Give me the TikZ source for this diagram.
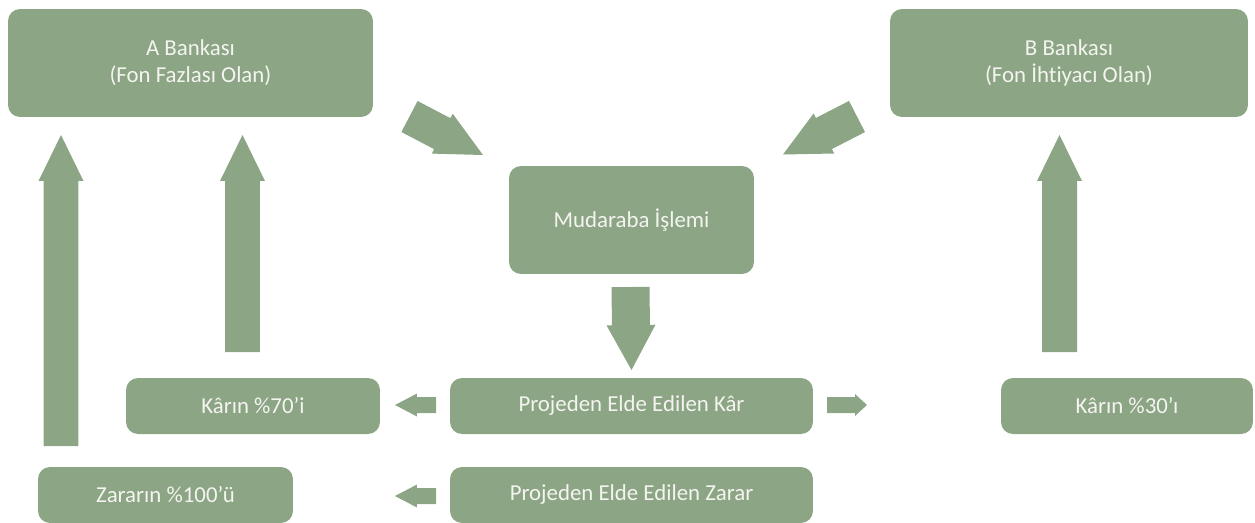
\documentclass[tikz,border=0pt]{standalone}
\usepackage{fontspec}
\setmainfont[Ligatures={NoCommon,NoRequired,NoContextual}]{Carlito}
\usetikzlibrary{calc}

% block arrow: start, tip, shaft half width, head half width, head length
\newcommand{\blockArrow}[5]{%
    \coordinate (baBase) at ($(#2)!#5!(#1)$);
    \fill[arrowFill] ($(#1)!#3!90:(#2)$) -- ($(baBase)!#3!90:(#2)$) -- ($(baBase)!#4!90:(#2)$)
        -- (#2) -- ($(baBase)!#4!-90:(#2)$) -- ($(baBase)!#3!-90:(#2)$) -- ($(#1)!#3!-90:(#2)$) -- cycle;
}

\begin{document}
\begin{tikzpicture}[x=0.02cm, y=-0.02cm]
    \definecolor{fillColour}{HTML}{8CA584}
    \definecolor{textColour}{HTML}{F4F4F0}

    \tikzset{
        box/.style={fill=fillColour, rounded corners=0.24cm, text=textColour, align=center,
            font=\fontsize{13}{15.5}\selectfont, inner sep=0pt},
        bigBox/.style={box, minimum height=2.16cm},
        smallBox/.style={box, minimum height=1.12cm},
        arrowFill/.style={fill=fillColour}
    }

    \useasboundingbox (0,0) rectangle (1255,522);

    % Banks and mudaraba
    \node[bigBox, minimum width=7.3cm] (aBank) at (190.5,63) {A Bankası\\(Fon Fazlası Olan)};
    \node[bigBox, minimum width=7.16cm] (bBank) at (1069,63) {B Bankası\\(Fon İhtiyacı Olan)};
    \node[bigBox, minimum width=4.9cm] (mudaraba) at (631.5,220) {Mudaraba İşlemi};

    % Profit and loss
    \node[smallBox, minimum width=7.26cm] (profit) at (631.5,406) {Projeden Elde Edilen Kâr};
    \node[smallBox, minimum width=5.08cm] (profitA) at (253,406) {Kârın \%70’i};
    \node[smallBox, minimum width=5.04cm] (profitB) at (1127,406) {Kârın \%30’ı};
    \node[smallBox, minimum width=7.26cm] (loss) at (631.5,495) {Projeden Elde Edilen Zarar};
    \node[smallBox, minimum width=5.1cm] (lossA) at (165.5,495) {Zararın \%100’ü};

    % Arrow ends
    \coordinate (aIn1) at (409.5,116.5);
    \coordinate (aIn2) at (483,155);
    \coordinate (bIn1) at (857,116.5);
    \coordinate (bIn2) at (783,154.5);
    \coordinate (mudOut1) at (630.5,287);
    \coordinate (mudOut2) at (631.5,370);
    \coordinate (lossUp1) at (61,446);
    \coordinate (lossUp2) at (61,135);
    \coordinate (profitAUp1) at (242.5,352);
    \coordinate (profitAUp2) at (242.5,135);
    \coordinate (profitBUp1) at (1059.5,352);
    \coordinate (profitBUp2) at (1059.5,135);
    \coordinate (profitL1) at (436,405);
    \coordinate (profitL2) at (395,405);
    \coordinate (profitR1) at (827,405);
    \coordinate (profitR2) at (867,405);
    \coordinate (lossL1) at (436,496);
    \coordinate (lossL2) at (395,496);

    % Draw arrows
    \blockArrow{aIn1}{aIn2}{0.35cm}{0.45cm}{0.92cm}
    \blockArrow{bIn1}{bIn2}{0.35cm}{0.45cm}{0.92cm}
    \blockArrow{mudOut1}{mudOut2}{0.38cm}{0.49cm}{0.9cm}
    \blockArrow{lossUp1}{lossUp2}{0.35cm}{0.45cm}{0.92cm}
    \blockArrow{profitAUp1}{profitAUp2}{0.35cm}{0.45cm}{0.92cm}
    \blockArrow{profitBUp1}{profitBUp2}{0.35cm}{0.45cm}{0.92cm}
    \blockArrow{profitL1}{profitL2}{0.16cm}{0.23cm}{0.44cm}
    \blockArrow{profitR1}{profitR2}{0.16cm}{0.22cm}{0.24cm}
    \blockArrow{lossL1}{lossL2}{0.16cm}{0.23cm}{0.44cm}

\end{tikzpicture}
\end{document}
